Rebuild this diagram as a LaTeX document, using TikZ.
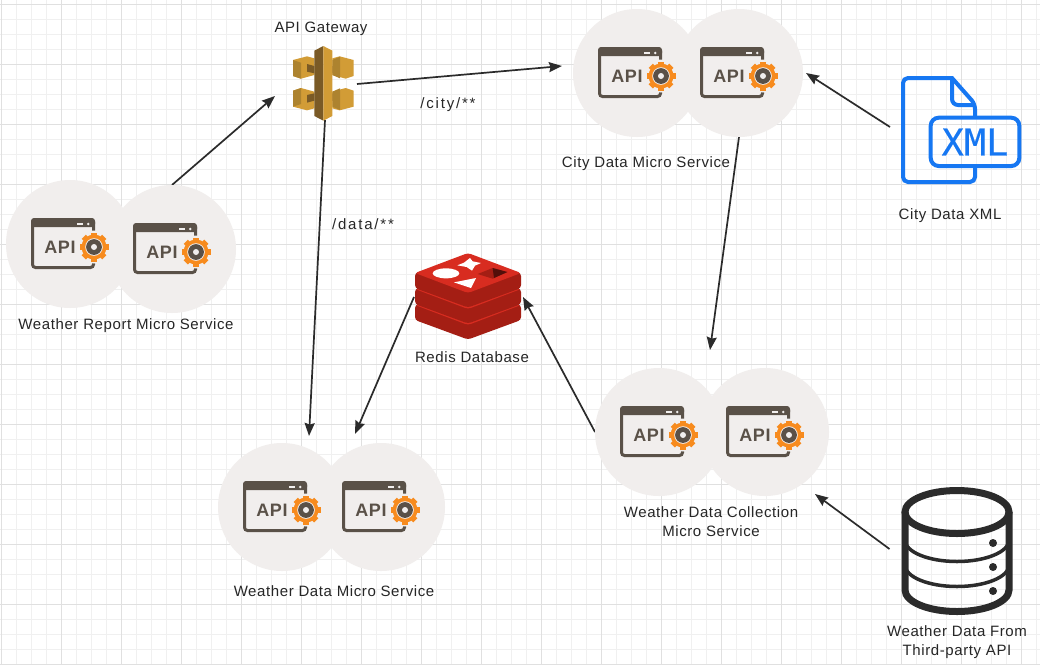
\documentclass[tikz,border=0pt]{standalone}
\usepackage{fontspec}
\setmainfont[LetterSpace=4]{Liberation Sans}
\newfontfamily\apifont[LetterSpace=3]{Liberation Sans}
\newfontfamily\pathfont[LetterSpace=12]{Liberation Sans}
\newfontfamily\xmlfont[FakeBold=0.3]{DejaVu Sans Mono}
\usetikzlibrary{arrows.meta}
\definecolor{discgrey}{HTML}{F1EEED}
\definecolor{apibrown}{HTML}{5A5148}
\definecolor{gearorange}{HTML}{F78B1E}
\definecolor{gwlight}{HTML}{D29C36}
\definecolor{gwmid}{HTML}{AD832F}
\definecolor{gwdark}{HTML}{7A5A26}
\definecolor{redistop}{HTML}{D82C20}
\definecolor{redisside}{HTML}{A41E14}
\definecolor{xmlblue}{HTML}{1677F2}
\definecolor{inkblack}{HTML}{2B2B2B}
\pgfdeclarelayer{gridlayer}
\pgfdeclarelayer{edgelayer}
\pgfdeclarelayer{nodelayer}
\pgfsetlayers{gridlayer,edgelayer,nodelayer,main}
\tikzstyle{disc}=[circle,fill=discgrey,minimum size=128pt,inner sep=0pt,outer sep=0pt]
\tikzstyle{iconbox}=[inner sep=0pt,outer sep=0pt]
\tikzstyle{caption}=[inner sep=0pt,text=black!85,align=center,font=\fontsize{15}{19}\selectfont]
\tikzstyle{pathtext}=[inner sep=0pt,text=black!85,font=\pathfont\fontsize{15}{19}\selectfont]
\tikzstyle{flow}=[-{Stealth[length=13pt,width=10pt,inset=1.5pt]},draw=inkblack,line width=1.7pt]
\tikzset{
	apiwindow/.pic={
		\draw [apibrown,line width=3pt,rounded corners=3pt] (-37.5,-24.5) rectangle (23.5,23.5);
		\fill [apibrown,rounded corners=3pt] (-39,-26) rectangle (25,-17);
		\fill [discgrey] (6.5,-21) rectangle (13,-19);
		\fill [discgrey] (18.3,-20) circle (1.4);
		\node [inner sep=0pt,text=apibrown,font=\apifont\bfseries\fontsize{18}{20}\selectfont] (-text) at (-10,3) {API};
		\fill [discgrey] (24,3) circle (16.5);
		\fill [gearorange] (24,3) circle (12.5);
		\foreach \a in {0,45,...,315}
			\fill [gearorange,shift={(24,3)},rotate=\a] (-3,9) rectangle (3,14.5);
		\fill [discgrey] (24,3) circle (8.8);
		\fill [apibrown] (24,3) circle (7.9);
		\fill [discgrey] (24,3) circle (3);
	},
	gatewayhalf/.pic={
		\fill [gwlight] (24,60) -- (66,49) -- (88,55) -- (88,105) -- (48,116) -- (24,108) -- cycle;
		\fill [gwdark] (66,72) -- (88,78) -- (88,100) -- (66,95) -- cycle;
	},
	redislayer/.pic={
		\fill [redisside,rounded corners=3pt] (415,273) -- (415,288) -- (468,307.5) -- (521,288) -- (521,273) -- (468,260) -- cycle;
		\fill [redistop,rounded corners=3pt] (415,273) -- (468,253) -- (521,273) -- (468,293) -- cycle;
	}
}

\begin{document}
\begin{tikzpicture}[x=1pt,y=-1pt]
	\useasboundingbox (0,0) rectangle (1040,665);
	\begin{pgfonlayer}{gridlayer}
		\fill [white] (0,0) rectangle (1040,665);
		\foreach \x in {16.5,31.5,...,1036.5}
			\draw [black!6,line width=1pt] (\x,0) -- (\x,665);
		\foreach \y in {19.5,34.5,...,664.5}
			\draw [black!6,line width=1pt] (0,\y) -- (1040,\y);
		\foreach \x in {1.5,61.5,...,1036.5}
			\draw [black!12,line width=1pt] (\x,0) -- (\x,665);
		\foreach \y in {4.5,64.5,...,664.5}
			\draw [black!12,line width=1pt] (0,\y) -- (1040,\y);
	\end{pgfonlayer}
	\begin{pgfonlayer}{nodelayer}
		\node [style=disc] (report1) at (70, 244) {};
		\node [style=disc] (report2) at (172, 249) {};
		\node [style=disc] (city1) at (637, 73) {};
		\node [style=disc] (city2) at (739, 73) {};
		\node [style=disc] (collect1) at (659, 432) {};
		\node [style=disc] (collect2) at (765, 432) {};
		\node [style=disc] (data1) at (282, 507) {};
		\node [style=disc] (data2) at (381, 507) {};
		\node [style=iconbox,minimum width=64pt,minimum height=74pt] (gateway) at (325, 83) {};
		\node [style=iconbox,minimum width=106pt,minimum height=85pt] (redis) at (468, 295.5) {};
		\node [style=iconbox,minimum width=120pt,minimum height=108pt] (xmlfile) at (961, 130) {};
		\node [style=iconbox,minimum width=111pt,minimum height=128pt] (thirdparty) at (957, 551) {};
		\node [style=caption] (gatewaytext) at (321, 28.5) {API Gateway};
		\node [style=caption] (citytext) at (646, 163.5) {City Data Micro Service};
		\node [style=caption] (xmltext) at (950, 216) {City Data XML};
		\node [style=pathtext] (citypath) at (448, 105) {/city/**};
		\node [style=pathtext] (datapath) at (363, 224.5) {/data/**};
		\node [style=caption] (reporttext) at (126, 325.5) {Weather Report Micro Service};
		\node [style=caption] (redistext) at (472, 357) {Redis Database};
		\node [style=caption] (collecttext) at (711, 521.5) {Weather Data Collection\\Micro Service};
		\node [style=caption] (datatext) at (334, 591) {Weather Data Micro Service};
		\node [style=caption] (thirdtext) at (957, 642) {Weather Data From\\Third-party API};
	\end{pgfonlayer}
	\begin{pgfonlayer}{edgelayer}
		\draw [style=flow] (report2.north) to ([shift={(-18,13)}]gateway.west);
		\draw [style=flow] ([shift={(0,1)}]gateway.east) to ([shift={(-11,-7)}]city1.west);
		\draw [style=flow] (gateway.south) to ([shift={(27,-7)}]data1.north);
		\draw [style=flow] ([shift={(-11,-3)}]xmlfile.west) to ([shift={(3,0)}]city2.east);
		\draw [style=flow] (city2.south) to ([shift={(51,-18)}]collect1.north);
		\draw [style=flow] ([shift={(-1,1.5)}]redis.west) to ([shift={(-26,-9)}]data2.north);
		\draw [style=flow] (collect1.west) to ([shift={(2,1.5)}]redis.east);
		\draw [style=flow] ([shift={(-12,-2)}]thirdparty.west) to ([shift={(50,-2)}]collect2.south);
	\end{pgfonlayer}
	% api windows
	\pic (reporticon1) at (report1) {apiwindow};
	\pic (reporticon2) at (report2) {apiwindow};
	\pic (cityicon1) at (city1) {apiwindow};
	\pic (cityicon2) at (city2) {apiwindow};
	\pic (collecticon1) at (collect1) {apiwindow};
	\pic (collecticon2) at (collect2) {apiwindow};
	\pic (dataicon1) at (data1) {apiwindow};
	\pic (dataicon2) at (data2) {apiwindow};
	% gateway
	\begin{scope}[shift={(285,40)},x=0.3333pt,y=-0.3333pt]
		\pic at (0,0) {gatewayhalf};
		\pic [xscale=-1] at (230,0) {gatewayhalf};
		\pic [yscale=-1] at (0,260) {gatewayhalf};
		\pic [xscale=-1,yscale=-1] at (230,260) {gatewayhalf};
		\fill [gwmid] (24,60) -- (48,68) -- (48,116) -- (24,108) -- cycle;
		\fill [gwmid] (24,200) -- (48,192) -- (48,144) -- (24,152) -- cycle;
		\fill [gwmid] (142,60) -- (165,50) -- (165,115) -- (142,105) -- cycle;
		\fill [gwmid] (142,200) -- (165,210) -- (165,145) -- (142,155) -- cycle;
		\fill [gwdark] (115,18) -- (88,32) -- (88,228) -- (115,242) -- cycle;
		\fill [gwlight] (115,18) -- (142,32) -- (142,228) -- (115,242) -- cycle;
	\end{scope}
	% redis
	\pic at (0,32) {redislayer};
	\pic at (0,16) {redislayer};
	\pic at (0,0) {redislayer};
	\begin{scope}[shift={(410,248)},x=0.3333pt,y=-0.3333pt]
		\fill [white] (108,76) ellipse [x radius=40,y radius=15];
		\fill [white] (180,30) -- (188,40) -- (213,45) -- (195,53) -- (186,68) -- (170,57) -- (142,52) -- (162,44) -- cycle;
		\fill [white] (132,103) -- (198,90) -- (183,120) -- cycle;
		\fill [redisside] (203,78) -- (248,60) -- (292,72) -- (248,92) -- cycle;
		\fill [black!50!redisside] (248,60) -- (292,72) -- (252,90) -- cycle;
	\end{scope}
	% xml file
	\draw [xmlblue,line width=4pt,rounded corners=5pt] (975,118) -- (975,104) [sharp corners] -- (952,78) [rounded corners=5pt] -- (903,78) -- (903,182) -- (975,182) -- (975,166);
	\draw [xmlblue,line width=4pt,rounded corners=6pt] (952,78) -- (952,105) -- (975,105);
	\draw [xmlblue,line width=4pt,rounded corners=8pt] (930.7,117.7) rectangle (1019.3,166);
	\node [inner sep=0pt,text=xmlblue,font=\xmlfont\fontsize{37}{37}\selectfont] (xmlword) at (975,142) {XML};
	% third party database
	\draw [inkblack,line width=7pt] (957,512) ellipse [x radius=52,y radius=21.5];
	\draw [inkblack,line width=7pt] (905,512) -- (905,590) arc [start angle=180,end angle=0,x radius=52,y radius=21.5] -- (1009,512);
	\draw [inkblack,line width=3.5pt] (905,540) arc [start angle=180,end angle=0,x radius=52,y radius=21.5];
	\draw [inkblack,line width=3.5pt] (905,565) arc [start angle=180,end angle=0,x radius=52,y radius=21.5];
	\foreach \y in {543,567,591}
		\fill [inkblack] (993,\y) circle (4);
\end{tikzpicture}
\end{document}
